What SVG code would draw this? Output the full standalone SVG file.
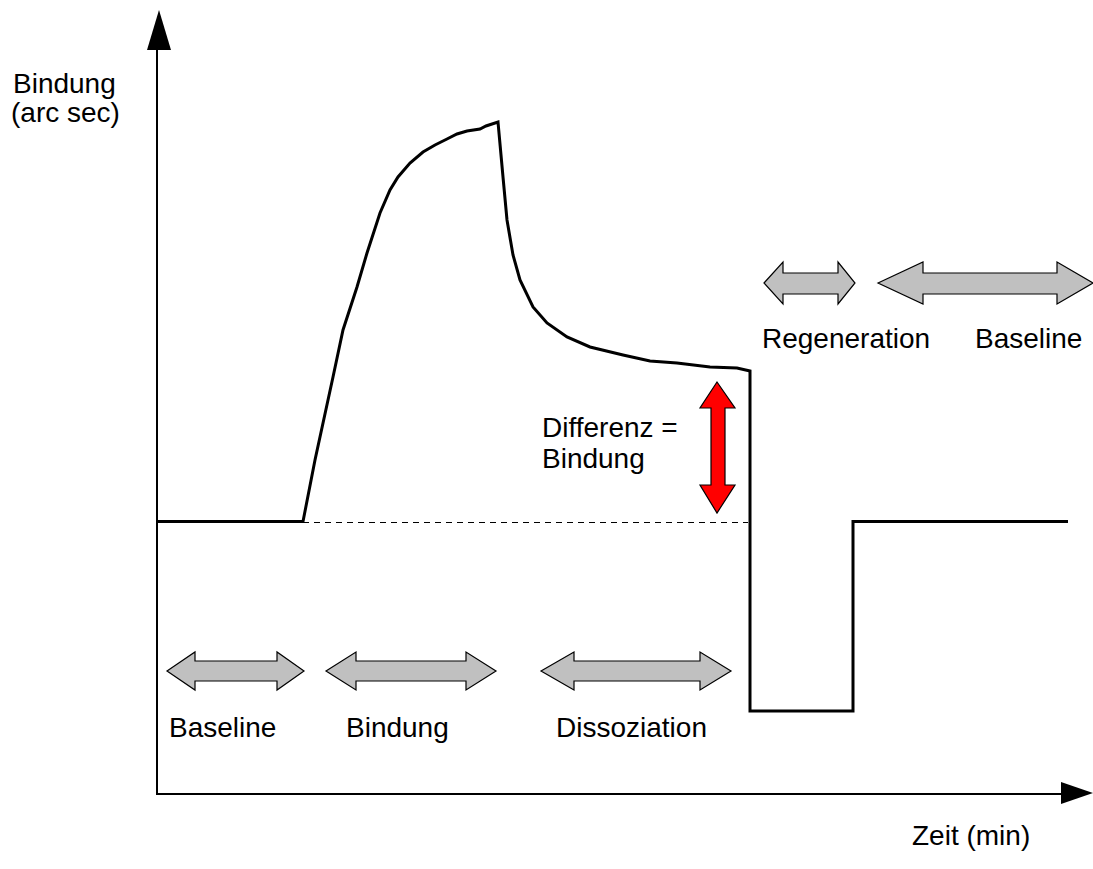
<svg xmlns="http://www.w3.org/2000/svg" width="1093" height="869" viewBox="0 0 1093 869">
<style>
.t{font-family:"Liberation Sans",Arial,sans-serif;font-size:28px;fill:#000}
.ax{stroke:#000;stroke-width:2;fill:none}
.sig{stroke:#000;stroke-width:3;fill:none;stroke-linejoin:miter}
.ga{fill:#c0c0c0;stroke:#000;stroke-width:1.2}
.ra{fill:#ff0000;stroke:#000;stroke-width:1.2}
</style>
<rect width="1093" height="869" fill="#fff"/>
<g id="axes">
<line class="ax" x1="157" y1="40" x2="157" y2="795"/>
<polygon points="159,10 171,50 147,50" fill="#000"/>
<line class="ax" x1="157" y1="794" x2="1065" y2="794"/>
<polygon points="1093,793 1061,782 1061,804" fill="#000"/>
</g>
<g id="connectors">
<path class="sig" d="M157,521.5 L303,521.5 L315,460 L333,377 L343,330 L357,287 L367,253 L380,213 L390,190 L398,177 L410,163 L423,152 L435,145 L447,139 L457,134 L467,131 L480,129 L486,126 L498,122 L503,177 L507,220 L513,255 L520,280 L533,307 L547,323 L567,337 L590,347 L623,355 L650,361 L677,363 L710,367 L737,368 L750,371 L750,711 L853,711 L853,521.5 L1068,521.5"/>
<line x1="303" y1="522.5" x2="748" y2="522.5" stroke="#000" stroke-width="1" stroke-dasharray="6,5"/>
</g>
<g id="arrow-baseline1">
<polygon class="ga" points="167,671 195,652 195,661 277,661 277,652 304,671 277,690 277,681 195,681 195,690"/>
</g>
<g id="arrow-bindung">
<polygon class="ga" points="326,671 356,652 356,661 466,661 466,652 496,671 466,690 466,681 356,681 356,690"/>
</g>
<g id="arrow-dissoziation">
<polygon class="ga" points="541,671 574,652 574,661 700,661 700,652 731,671 700,690 700,681 574,681 574,690"/>
</g>
<g id="arrow-regeneration">
<polygon class="ga" points="764,283 783,262 783,273 838,273 838,262 855,283 838,304 838,294 783,294 783,304"/>
</g>
<g id="arrow-baseline2">
<polygon class="ga" points="878,283 923,262 923,273 1057,273 1057,262 1093,283 1057,304 1057,294 923,294 923,304"/>
</g>
<g id="arrow-differenz">
<polygon class="ra" points="717,382 735,408 725,408 725,485 735,485 717,513 700,485 711,485 711,408 700,408"/>
</g>
<g id="labels">
<text class="t" x="13" y="93">Bindung</text>
<text class="t" x="11" y="122">(arc sec)</text>
<text class="t" x="762" y="348">Regeneration</text>
<text class="t" x="975" y="348">Baseline</text>
<text class="t" x="542" y="437">Differenz =</text>
<text class="t" x="542" y="468">Bindung</text>
<text class="t" x="169" y="737">Baseline</text>
<text class="t" x="346" y="737">Bindung</text>
<text class="t" x="556" y="737">Dissoziation</text>
<text class="t" x="912" y="845">Zeit (min)</text>
</g>
</svg>
